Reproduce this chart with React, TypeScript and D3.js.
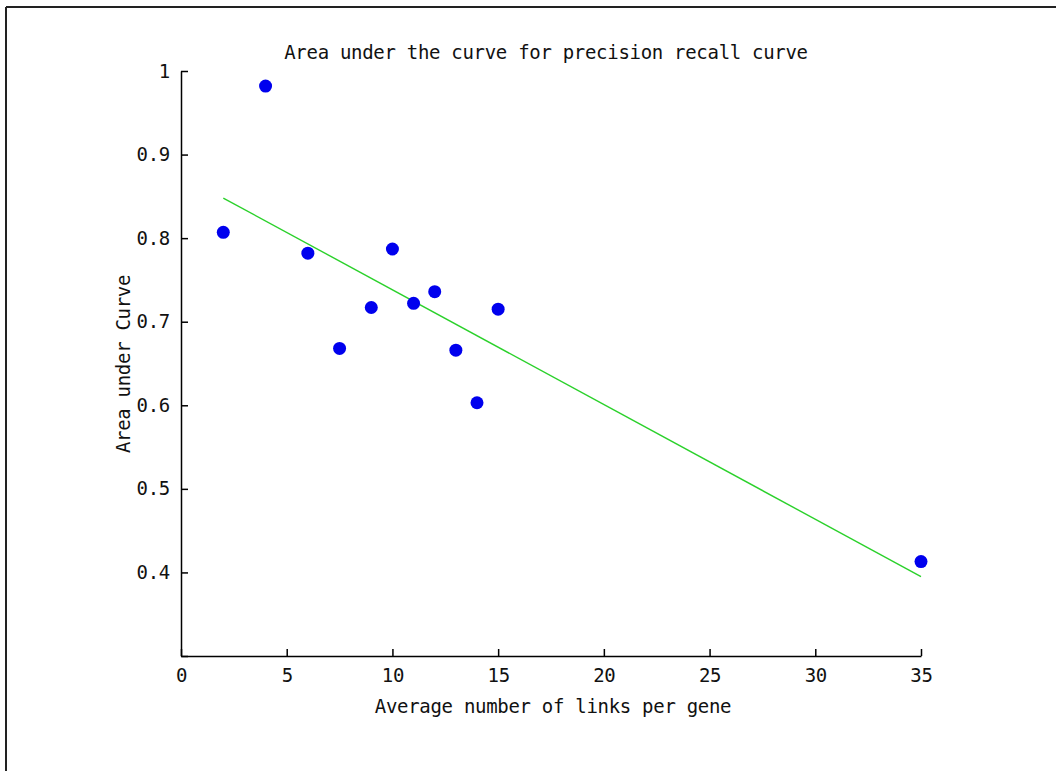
import { useEffect, useRef } from 'react'
import * as d3 from 'd3'

// values
const linksPerGene = [2, 4, 6, 7.5, 9, 10, 11, 12, 13, 14, 15, 35]
const areaUnderCurve = [0.807, 0.982, 0.782, 0.668, 0.717, 0.787, 0.722, 0.736, 0.666, 0.603, 0.715, 0.413]

// least-squares fit line, endpoints as drawn
const fitX = [2, 35]
const fitY = [0.848, 0.395]

const xTicks = [0, 5, 10, 15, 20, 25, 30, 35]
const yTicks = [0.3, 0.4, 0.5, 0.6, 0.7, 0.8, 0.9, 1]

const W = 1056
const H = 771
const PLOT = { left: 181, right: 921, top: 71, bottom: 656 }
const FONT = '"DejaVu Sans Mono", monospace'

export default function App() {
  const svgRef = useRef<SVGSVGElement>(null)

  useEffect(() => {
    if (!svgRef.current) return
    const svg = d3.select(svgRef.current)
    svg.selectAll('*').remove()

    const x = d3.scaleLinear().domain([0, 35]).range([PLOT.left, PLOT.right])
    const y = d3.scaleLinear().domain([0.3, 1]).range([PLOT.bottom, PLOT.top])

    // window frame (top + left edge)
    svg.append('line').attr('x1', 6).attr('y1', 7).attr('x2', W).attr('y2', 7)
      .attr('stroke', '#222').attr('stroke-width', 2)
    svg.append('line').attr('x1', 6).attr('y1', 7).attr('x2', 6).attr('y2', H)
      .attr('stroke', '#222').attr('stroke-width', 2)

    const styleAxis = (ax: any) => {
      ax.select('.domain').attr('stroke', '#000').attr('stroke-width', 1.5)
      ax.selectAll('.tick line').attr('stroke', '#000').attr('stroke-width', 1.5)
      ax.selectAll('text').attr('font-family', FONT).attr('font-size', 19)
        .attr('letter-spacing', '-0.3px').attr('fill', '#111')
    }

    // X axis, ticks point inward
    svg.append('g')
      .attr('transform', `translate(0,${PLOT.bottom})`)
      .call(d3.axisBottom(x).tickValues(xTicks).tickFormat(d3.format('d'))
        .tickSizeInner(-7).tickSizeOuter(0).tickPadding(13))
      .call(styleAxis)

    // Y axis
    svg.append('g')
      .attr('transform', `translate(${PLOT.left},0)`)
      .call(d3.axisLeft(y).tickValues(yTicks)
        .tickFormat(d => (+d < 0.35 ? '' : d3.format('~g')(+d)))
        .tickSizeInner(-7).tickSizeOuter(0).tickPadding(11))
      .call(styleAxis)

    // fit line
    const line = d3.line<number>().x((d) => x(d)).y((_, i) => y(fitY[i]))
    svg.append('path')
      .datum(fitX)
      .attr('fill', 'none')
      .attr('stroke', '#2bd12b')
      .attr('stroke-width', 1.4)
      .attr('d', line)

    // points
    svg.append('g')
      .selectAll('circle')
      .data(linksPerGene)
      .join('circle')
      .attr('cx', d => x(d))
      .attr('cy', (_, i) => y(areaUnderCurve[i]))
      .attr('r', 6.5)
      .attr('fill', '#0000ee')

    const text = (t: string) => svg.append('text')
      .attr('font-family', FONT).attr('font-size', 19)
      .attr('letter-spacing', '-0.3px').attr('fill', '#111')
      .attr('text-anchor', 'middle').text(t)

    text('Area under the curve for precision recall curve').attr('x', 546).attr('y', 59)
    text('Average number of links per gene').attr('x', 553).attr('y', 713)
    text('Area under Curve').attr('transform', 'translate(130,364) rotate(-90)')
  }, [])

  return (
    <svg
      ref={svgRef}
      width={W}
      height={H}
      style={{ position: 'absolute', left: 0, top: 0, background: '#fff', display: 'block' }}
    />
  )
}
